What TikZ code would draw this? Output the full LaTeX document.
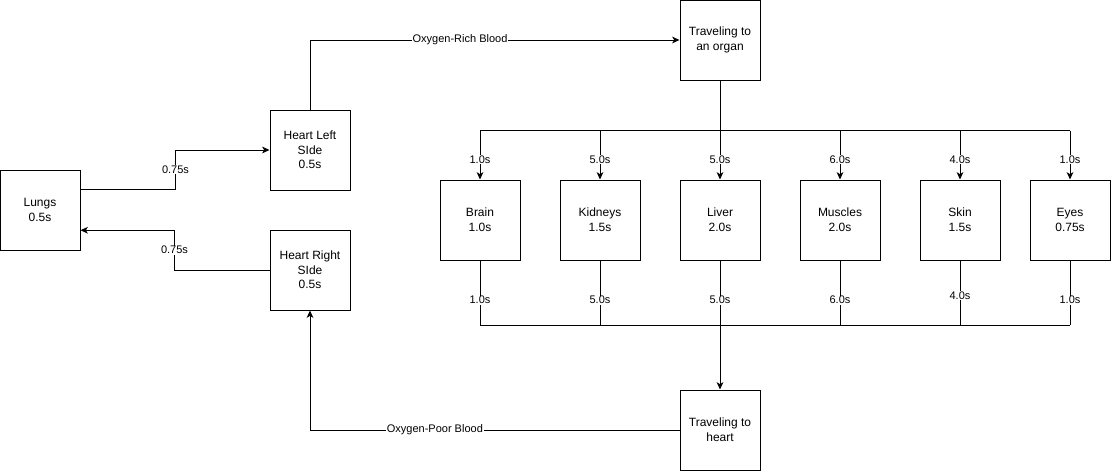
\documentclass[tikz,border=0pt]{standalone}
\usepackage{fontspec}
\setmainfont{Liberation Sans}
\usetikzlibrary{arrows.meta,calc}
\tikzset{
  box/.style={draw, line width=0.75pt, minimum width=60pt, minimum height=60pt,
    inner sep=0pt, align=center, font=\fontsize{9}{11}\selectfont},
  flow/.style={line width=0.75pt, -{Stealth[length=5.5pt,width=5pt,inset=1.5pt]}},
  wire/.style={line width=0.75pt},
  lbl/.style={fill=white, inner sep=0.5pt, font=\fontsize{8.25}{10}\selectfont}
}
\begin{document}
\begin{tikzpicture}[x=0.75pt, y=-0.75pt]
    \useasboundingbox (0,0) rectangle (1111,471);

    % Lungs and heart
    \node[box] (lungs) at (40,210) {Lungs\\0.5s};
    \node[box] (hleft) at (310,150) {Heart Left\\SIde\\0.5s};
    \node[box] (hright) at (310,270) {Heart Right\\SIde\\0.5s};

    % Traveling boxes
    \node[box] (toorgan) at (720,40) {Traveling to\\an organ};
    \node[box] (toheart) at (720,430) {Traveling to\\heart};

    % Organs
    \node[box] (brain) at (480,220) {Brain\\1.0s};
    \node[box] (kidneys) at (600,220) {Kidneys\\1.5s};
    \node[box] (liver) at (720,220) {Liver\\2.0s};
    \node[box] (muscles) at (840,220) {Muscles\\2.0s};
    \node[box] (skin) at (960,220) {Skin\\1.5s};
    \node[box] (eyes) at (1070,220) {Eyes\\0.75s};

    % Lungs <-> heart
    \draw[flow] ($(lungs.north east)!.25!(lungs.south east)$) -- ++(95,0)
        |- node[lbl, pos=.25] {0.75s} (hleft.west);
    \draw[flow] (hright.west) -- ++(-95,0)
        |- node[lbl, pos=.25] {0.75s} ($(lungs.north east)!.75!(lungs.south east)$);

    % Blood to and from the organs
    \draw[flow] (hleft.north) |- node[lbl, pos=.703] {Oxygen-Rich Blood} (toorgan.west);
    \draw[flow] (toheart.west) -| node[lbl, pos=.331] {Oxygen-Poor Blood} (hright.south);

    % Top bus
    \draw[wire] (toorgan.south) -- ++(0,50) coordinate (topbus);
    \draw[wire] (brain.north |- topbus) -- (eyes.north |- topbus);
    \foreach \o/\t in {brain/1.0s, kidneys/5.0s, liver/5.0s, muscles/6.0s, skin/4.0s, eyes/1.0s}
        \draw[flow] (\o.north |- topbus) -- node[lbl, pos=.6] {\t} (\o.north);

    % Bottom bus
    \coordinate (botbus) at (720,325);
    \foreach \o/\t/\p in {brain/1.0s/.615, kidneys/5.0s/.615, liver/5.0s/.615,
        muscles/6.0s/.615, skin/4.0s/.54, eyes/1.0s/.615}
        \draw[wire] (\o.south) -- node[lbl, pos=\p] {\t} (\o.south |- botbus);
    \draw[wire] (brain.south |- botbus) -- (eyes.south |- botbus);
    \draw[flow] (botbus) -- (toheart.north);
\end{tikzpicture}
\end{document}
